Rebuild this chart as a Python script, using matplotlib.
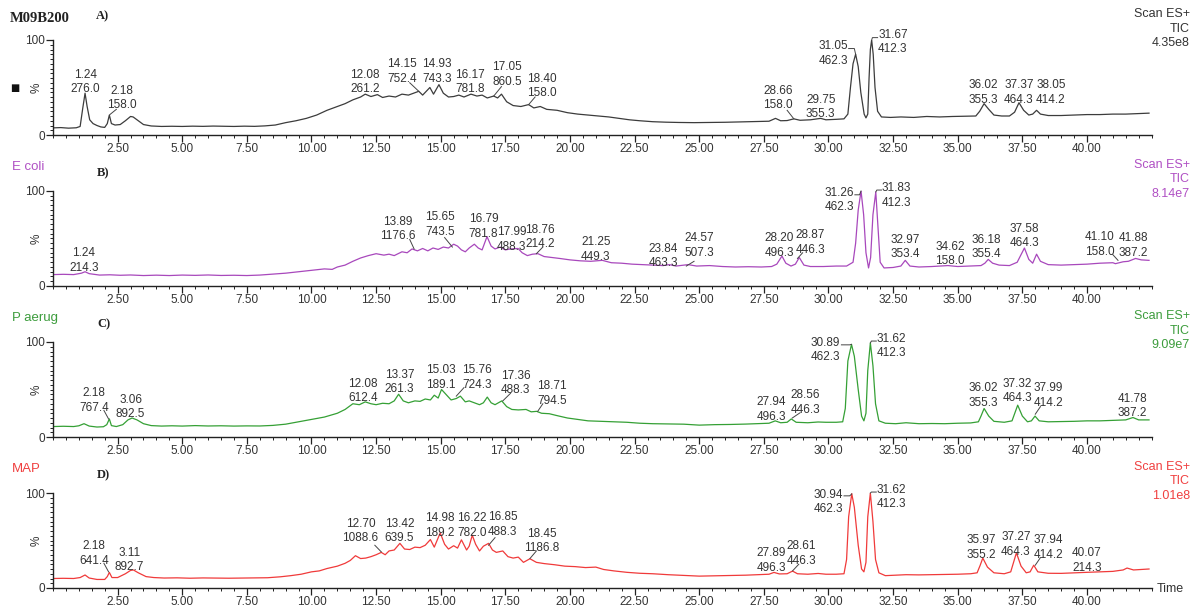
import matplotlib
matplotlib.use("Agg")
import matplotlib.pyplot as plt
from matplotlib.ticker import FixedLocator, MultipleLocator, FormatStrFormatter

W, H = 1194, 607
SANS = ["Liberation Sans", "DejaVu Sans"]
SERIF = ["Liberation Serif", "DejaVu Serif"]
plt.rcParams["font.family"] = SANS

# ---------------------------------------------------------------- TIC traces
# retention time (min) and relative intensity (%)
time_a = [0.0, 0.3, 0.6, 0.9, 1.05, 1.15, 1.24, 1.32, 1.42, 1.55, 1.7, 1.85, 2.0, 2.1, 2.18, 2.26, 2.4,
          2.6, 2.8, 3.0, 3.1, 3.3, 3.5, 3.8, 4.2, 4.6, 5.0, 5.4, 5.8, 6.2, 6.6, 7.0, 7.4, 7.8, 8.2, 8.6,
          9.0, 9.4, 9.8, 10.2, 10.6, 11.0, 11.3, 11.6, 11.9, 12.08, 12.3, 12.55, 12.75, 13.0, 13.25, 13.5,
          13.75, 13.95, 14.15, 14.3, 14.58, 14.72, 14.93, 15.1, 15.3, 15.5, 15.7, 15.9, 16.17, 16.4, 16.6,
          16.8, 17.05, 17.2, 17.35, 17.55, 17.8, 18.1, 18.4, 18.6, 18.85, 19.1, 19.5, 19.9, 20.3, 20.7,
          21.1, 21.5, 21.9, 22.3, 22.7, 23.2, 23.7, 24.2, 24.8, 25.4, 26.0, 26.6, 27.2, 27.7, 27.95, 28.15,
          28.4, 28.66, 28.9, 29.3, 29.7, 29.9, 30.3, 30.6, 30.75, 30.85, 30.95, 31.05, 31.15, 31.25, 31.38,
          31.45, 31.52, 31.57, 31.62, 31.67, 31.73, 31.8, 31.9, 32.05, 32.4, 32.8, 33.3, 33.8, 34.3, 34.8,
          35.3, 35.7, 35.85, 36.02, 36.2, 36.4, 36.7, 37.0, 37.2, 37.37, 37.55, 37.75, 37.9, 38.05, 38.2,
          38.5, 39.0, 39.5, 40.0, 40.5, 41.0, 41.5, 42.0, 42.4]
tic_a = [7.5, 7.8, 7.2, 7.6, 9, 28, 44, 30, 16, 12, 10, 8.5, 8, 12, 21, 12, 10.5,
         11, 15, 19.5, 19, 15, 11, 9.5, 9, 9.2, 9, 9.3, 9.1, 9.4, 9.2, 9.0, 9.3, 9.1, 9.6, 10.5,
         13, 15, 17.5, 21, 26, 30, 33, 37, 40, 43, 40.5, 42.5, 39.5, 41, 40, 43,
         42, 44, 46, 42, 50, 43, 53, 44, 40, 40.5, 42, 40, 43, 41, 42,
         39, 41, 39, 43, 35, 31, 30, 32, 28.5, 30, 27, 26, 23.5, 22, 21,
         20, 19, 17.5, 16, 15, 14, 13.5, 13.2, 13, 13.2, 13.4, 13.8, 14.2, 14.5, 17.5, 15,
         15.2, 17, 15.5, 16, 17.5, 16, 16.5, 17, 22, 50, 75, 85, 72, 45, 22,
         18, 22, 60, 90, 100, 85, 50, 25, 19, 18.5, 19, 18.5, 19.5, 19, 19.5,
         19.8, 20, 25, 33, 27, 21, 20, 20, 24, 34, 26, 21, 22, 26, 22,
         20.5, 20.5, 21, 21.5, 21.5, 22, 22, 22.5, 23]

time_b = [0.0, 0.4, 0.8, 1.1, 1.24, 1.4, 1.8, 2.2, 2.6, 3.0, 3.5, 4.0, 4.5, 5.0, 5.5, 6.0, 6.5, 7.0,
          7.5, 8.0, 8.5, 9.0, 9.5, 10.0, 10.5, 10.8, 11.0, 11.3, 11.6, 11.9, 12.2, 12.5, 12.8, 13.0,
          13.2, 13.5, 13.7, 13.89, 14.1, 14.3, 14.5, 14.7, 14.9, 15.1, 15.3, 15.5, 15.65, 15.8, 15.95,
          16.1, 16.3, 16.45, 16.6, 16.79, 16.95, 17.1, 17.3, 17.5, 17.7, 17.99, 18.15, 18.35, 18.55,
          18.76, 19.0, 19.3, 19.6, 20.0, 20.4, 20.8, 21.25, 21.6, 22.0, 22.4, 22.8, 23.2, 23.6, 23.84,
          24.1, 24.57, 24.9, 25.4, 25.9, 26.4, 26.9, 27.4, 27.8, 28.0, 28.2, 28.35, 28.55, 28.72, 28.87,
          29.05, 29.3, 29.8, 30.3, 30.7, 30.95, 31.05, 31.15, 31.26, 31.36, 31.45, 31.55, 31.63, 31.72,
          31.83, 31.92, 32.0, 32.15, 32.5, 32.8, 32.97, 33.15, 33.5, 34.0, 34.62, 35.0, 35.5, 35.9,
          36.05, 36.18, 36.35, 36.6, 37.0, 37.3, 37.58, 37.75, 37.9, 38.05, 38.2, 38.5, 39.0, 39.5,
          40.0, 40.5, 41.0, 41.1, 41.4, 41.6, 41.88, 42.1, 42.4]
tic_b = [12, 12.3, 12, 13.5, 15, 13, 11.5, 11.8, 11.3, 11.6, 11, 11.4, 11, 11.5, 11.2, 11.6, 11.1, 11.3,
         11, 11.5, 12.5, 13.5, 15, 16.5, 18, 17.5, 20, 22, 26, 29.5, 32, 34, 32.5, 33.5,
         32, 36, 35, 39, 37, 39.5, 37, 40, 38.5, 41, 40, 44, 42, 38, 36,
         40, 44, 40, 38, 52, 42, 39, 41, 38, 39, 39.5, 35, 32, 33.5,
         34, 31, 30, 29, 27.5, 26.5, 26, 27, 24.5, 24, 23, 22.5, 22, 21.5, 22.5,
         21, 22.5, 21, 21.5, 20.5, 20, 20.3, 20, 20.5, 23, 31.5, 24, 21, 23, 30,
         22, 20.5, 20.5, 21, 21, 25, 45, 80, 100, 75, 35, 19, 30, 75,
         99, 60, 25, 19, 19.5, 21, 27, 21, 20, 20.5, 21.5, 20.5, 21, 21.5,
         24, 28, 24, 22, 21.5, 25, 40, 28, 24, 33.5, 26, 22.5, 22, 22.5,
         23, 24, 24.5, 23.5, 25.5, 26, 29, 27.5, 27]

time_c = [0.0, 0.4, 0.8, 1.0, 1.2, 1.4, 1.7, 1.95, 2.08, 2.18, 2.26, 2.45, 2.7, 2.9, 3.06, 3.25, 3.5,
          3.8, 4.2, 4.6, 5.0, 5.5, 6.0, 6.5, 7.0, 7.5, 8.0, 8.5, 9.0, 9.5, 10.0, 10.5, 11.0, 11.3,
          11.6, 11.85, 12.08, 12.3, 12.5, 12.75, 13.0, 13.2, 13.37, 13.55, 13.75, 14.0, 14.2, 14.4,
          14.6, 14.75, 14.9, 15.03, 15.2, 15.4, 15.6, 15.76, 15.95, 16.1, 16.3, 16.5, 16.65, 16.8,
          16.95, 17.1, 17.36, 17.55, 17.75, 18.0, 18.3, 18.5, 18.71, 18.9, 19.2, 19.5, 19.9, 20.3,
          20.7, 21.2, 21.7, 22.2, 22.7, 23.2, 23.8, 24.4, 25.0, 25.6, 26.2, 26.8, 27.4, 27.7, 27.94,
          28.15, 28.4, 28.56, 28.75, 29.2, 29.6, 29.9, 30.3, 30.55, 30.65, 30.75, 30.89, 31.0, 31.15,
          31.28, 31.37, 31.45, 31.52, 31.62, 31.72, 31.82, 31.95, 32.2, 32.6, 33.0, 33.5, 34.0, 34.5,
          35.0, 35.5, 35.8, 35.9, 36.02, 36.2, 36.4, 36.8, 37.1, 37.32, 37.5, 37.7, 37.85, 37.99,
          38.15, 38.5, 39.0, 39.5, 40.0, 40.5, 41.0, 41.5, 41.78, 42.0, 42.4]
tic_c = [11, 11.3, 11, 11.8, 14, 11.5, 10.5, 10.8, 13, 19, 12, 11, 13, 18, 20, 18, 14,
         12, 11.5, 11.8, 11.5, 12, 11.6, 11.8, 11.5, 11.7, 11.6, 12.2, 13.5, 16, 18.5, 21, 25, 29,
         35, 34, 37, 35, 34, 35.5, 35, 38, 45, 38, 36, 38, 37.5, 40,
         39, 44, 41, 50, 45, 39, 40.5, 43, 37, 38, 36, 34, 36, 42,
         36, 34, 38, 32, 29, 28.5, 29, 26.5, 27, 25, 24.5, 22.5, 20, 18.5,
         17, 16.5, 16, 15.5, 14.5, 14, 13.8, 13.5, 12.5, 13, 13.2, 13.6, 14.2, 14.5, 17,
         15, 15.5, 19, 15.5, 15, 15.8, 15.5, 15.5, 16, 30, 80, 97.5, 85, 50,
         22, 17, 25, 70, 99, 75, 35, 17, 14.5, 14, 15, 14, 14.2, 14,
         14.5, 14.8, 16, 22, 30, 22, 16.5, 15.5, 17, 33.5, 22, 16, 17, 22,
         17, 16, 16.2, 16.5, 17, 17, 17.5, 18, 20.5, 18, 18]

time_d = [0.0, 0.4, 0.8, 1.05, 1.24, 1.4, 1.7, 2.0, 2.1, 2.18, 2.28, 2.5, 2.8, 3.0, 3.11, 3.3, 3.6,
          3.9, 4.3, 4.8, 5.3, 5.8, 6.3, 6.8, 7.3, 7.8, 8.3, 8.8, 9.2, 9.6, 10.0, 10.3, 10.6, 11.0,
          11.3, 11.5, 11.7, 11.9, 12.1, 12.3, 12.5, 12.7, 12.85, 13.0, 13.2, 13.42, 13.6, 13.8, 14.0,
          14.2, 14.4, 14.6, 14.75, 14.98, 15.15, 15.3, 15.5, 15.65, 15.8, 16.0, 16.1, 16.22, 16.35,
          16.5, 16.65, 16.85, 17.0, 17.15, 17.4, 17.6, 17.8, 18.0, 18.2, 18.45, 18.7, 19.0, 19.4,
          19.8, 20.2, 20.6, 21.0, 21.3, 21.7, 22.2, 22.7, 23.2, 23.8, 24.4, 25.0, 25.6, 26.2, 26.8,
          27.4, 27.7, 27.89, 28.1, 28.4, 28.61, 28.8, 29.2, 29.6, 29.9, 30.3, 30.6, 30.7, 30.78,
          30.9, 31.0, 31.15, 31.28, 31.37, 31.45, 31.52, 31.62, 31.72, 31.82, 31.95, 32.2, 32.6,
          33.0, 33.5, 34.0, 34.5, 35.0, 35.5, 35.75, 35.87, 35.97, 36.15, 36.4, 36.8, 37.05, 37.27,
          37.45, 37.65, 37.8, 37.94, 38.1, 38.5, 39.0, 39.5, 40.0, 40.5, 41.0, 41.4, 41.55, 41.8,
          42.1, 42.4]
tic_d = [10, 10.2, 10, 11, 13.7, 10.5, 9, 9, 12, 16.4, 11, 11, 15, 18.5, 19, 16, 12,
         11, 10.5, 10.7, 10.3, 10.6, 10.4, 10.3, 10.5, 10.6, 10.8, 11.8, 13, 14.5, 17, 18, 20.5, 23,
         26, 29, 34, 31, 31.5, 33, 35, 37.5, 35, 39, 40, 47, 41, 40.5, 43,
         42.5, 45, 51, 43, 58, 46, 41, 44.5, 42, 50.7, 40, 44, 55.5, 46,
         39, 44, 47, 40, 37.5, 39, 33, 31.5, 32.5, 27, 30.8, 27, 25.7, 24.5,
         23, 22.5, 21.5, 22, 19.5, 18, 16.5, 15.5, 15, 14, 13.2, 12.5, 12.8, 13, 13.5,
         14.2, 14.5, 16.4, 14.8, 15, 17.8, 15, 14.5, 15.3, 14.5, 14.5, 15, 30, 75,
         99.3, 85, 45, 20, 17, 27, 75, 100, 70, 30, 16, 13, 13.5,
         14, 13.8, 14, 14.3, 14.5, 15, 16, 24, 31.5, 22, 16, 15, 17, 37,
         23, 16, 17, 24, 17, 15.5, 15.4, 16, 16.5, 17, 17.5, 19, 21, 19,
         19.5, 20]

# ---------------------------------------------------------------- peak labels
# (retention time, base peak m/z, label x, label baseline y, alignment)
labels_a = [("1.24", "276.0", 1.24, 45, "center"), ("2.18", "158.0", 2.67, 28, "center"),
            ("12.08", "261.2", 12.07, 45, "center"), ("14.15", "752.4", 13.5, 56, "center"),
            ("14.93", "743.3", 14.86, 56, "center"), ("16.17", "781.8", 16.13, 45, "center"),
            ("17.05", "860.5", 17.56, 53, "center"), ("18.40", "158.0", 18.9, 41, "center"),
            ("28.66", "158.0", 28.05, 28, "center"), ("29.75", "355.3", 29.7, 18.5, "center"),
            ("31.05", "462.3", 30.75, 75, "right"), ("31.67", "412.3", 31.92, 87, "left"),
            ("36.02", "355.3", 36.0, 34, "center"), ("37.37", "464.3", 37.37, 34, "center"),
            ("38.05", "414.2", 38.6, 34, "center")]
labels_b = [("1.24", "214.3", 1.2, 16, "center"), ("13.89", "1176.6", 13.35, 49, "center"),
            ("15.65", "743.5", 14.98, 54, "center"), ("16.79", "781.8", 16.65, 52, "center"),
            ("17.99", "488.3", 17.75, 38, "center"), ("18.76", "214.2", 18.85, 41, "center"),
            ("21.25", "449.3", 21.0, 27.5, "center"), ("23.84", "463.3", 23.6, 21, "center"),
            ("24.57", "507.3", 25.0, 31.7, "center"), ("28.20", "496.3", 28.1, 32, "center"),
            ("28.87", "446.3", 29.3, 35, "center"), ("31.26", "462.3", 31.0, 80, "right"),
            ("31.83", "412.3", 32.05, 84.5, "left"), ("32.97", "353.4", 32.97, 30, "center"),
            ("34.62", "158.0", 34.7, 23, "center"), ("36.18", "355.4", 36.1, 30, "center"),
            ("37.58", "464.3", 37.57, 42, "center"), ("41.10", "158.0", 40.5, 33, "center"),
            ("41.88", "387.2", 41.8, 32, "center")]
labels_c = [("2.18", "767.4", 1.58, 27.6, "center"), ("3.06", "892.5", 3.0, 21, "center"),
            ("12.08", "612.4", 12.0, 37.5, "center"), ("13.37", "261.3", 13.4, 47, "center"),
            ("15.03", "189.1", 15.0, 52, "center"), ("15.76", "724.3", 16.4, 52, "center"),
            ("17.36", "488.3", 17.9, 46, "center"), ("18.71", "794.5", 19.3, 35, "center"),
            ("27.94", "496.3", 27.8, 18, "center"), ("28.56", "446.3", 29.1, 25.5, "center"),
            ("30.89", "462.3", 30.45, 81, "right"), ("31.62", "412.3", 31.85, 85, "left"),
            ("36.02", "355.3", 36.0, 32.7, "center"), ("37.32", "464.3", 37.3, 37.5, "center"),
            ("37.99", "414.2", 38.5, 32.7, "center"), ("41.78", "387.2", 41.75, 22, "center")]
labels_d = [("2.18", "641.4", 1.58, 25.5, "center"), ("3.11", "892.7", 2.95, 18.7, "center"),
            ("12.70", "1088.6", 11.9, 49, "center"), ("13.42", "639.5", 13.4, 49, "center"),
            ("14.98", "189.2", 14.95, 55, "center"), ("16.22", "782.0", 16.2, 55, "center"),
            ("16.85", "488.3", 17.4, 56, "center"), ("18.45", "1186.8", 18.9, 39, "center"),
            ("27.89", "496.3", 27.8, 18, "center"), ("28.61", "446.3", 28.95, 25.5, "center"),
            ("30.94", "462.3", 30.55, 79.6, "right"), ("31.62", "412.3", 31.85, 85, "left"),
            ("35.97", "355.2", 35.9, 32, "center"), ("37.27", "464.3", 37.25, 35, "center"),
            ("37.94", "414.2", 38.5, 32, "center"), ("40.07", "214.3", 40.0, 18, "center")]

# leader lines joining labels to their peaks (time, %)
leaders_a = [[(2.2, 21.5), (2.45, 27)], [(14.15, 46), (13.8, 55)], [(17.05, 41), (17.35, 51)],
             [(18.4, 32), (18.65, 40)], [(28.66, 17), (28.4, 26)],
             [(31.05, 85), (31.0, 91), (30.78, 91)], [(31.67, 100), (31.7, 102.5), (31.9, 102.5)]]
leaders_b = [[(13.97, 39), (13.8, 49)], [(15.45, 41), (15.15, 51)], [(18.7, 34), (18.95, 41)],
             [(24.5, 21), (24.8, 26)], [(28.8, 29), (29.0, 35)],
             [(31.26, 100), (31.2, 96), (31.02, 96)], [(31.83, 99), (31.87, 101), (32.05, 101)],
             [(41.2, 27), (41.0, 33)]]
leaders_c = [[(2.15, 19), (1.97, 28)], [(15.6, 43), (15.9, 52)], [(17.4, 38), (17.7, 46)],
             [(18.75, 27), (18.95, 35)], [(28.6, 20), (28.9, 25.5)],
             [(30.89, 97.5), (30.82, 97), (30.5, 97)], [(31.62, 99), (31.66, 101), (31.85, 101)],
             [(38.0, 24), (38.2, 32)]]
leaders_d = [[(2.15, 17), (1.97, 26)], [(12.7, 38), (12.45, 45)], [(16.85, 45), (17.1, 53)],
             [(18.45, 31), (18.7, 39)], [(28.61, 18), (28.85, 25)],
             [(30.9, 99), (30.82, 97), (30.6, 97)], [(31.62, 100), (31.66, 101), (31.85, 101)],
             [(38.0, 24), (38.2, 32)]]

samples = ["M09B200", "E coli", "P aerug", "MAP"]
panel_tags = ["A)", "B)", "C)", "D)"]
tic_max = ["4.35e8", "8.14e7", "9.09e7", "1.01e8"]
colors = ["#3c3c3c", "#a848bc", "#35a035", "#f03a3a"]
name_colors = ["#222222", "#b050c4", "#3c9c3c", "#f04040"]

# panel geometry in pixels: y of the 0 % line
y0_px = [135, 286, 437, 588]
plot_h = 95
x0_px, x_w = 53, 1098.6

fig = plt.figure(figsize=(W / 100, H / 100), dpi=100)


def fx(px):
    return px / W


def fy(py):
    return 1 - py / H


traces = [(time_a, tic_a), (time_b, tic_b), (time_c, tic_c), (time_d, tic_d)]
all_labels = [labels_a, labels_b, labels_c, labels_d]
all_leaders = [leaders_a, leaders_b, leaders_c, leaders_d]
label_color = "#333333"
LFS = 8.5

for i in range(4):
    ax = fig.add_axes([fx(x0_px), fy(y0_px[i]), x_w / W, plot_h / H])
    t, y = traces[i]
    ax.plot(t, y, color=colors[i], lw=0.9)
    ax.set_xlim(0, 42.5)
    ax.set_ylim(0, 100)
    for s in ("top", "right"):
        ax.spines[s].set_visible(False)
    for s in ("left", "bottom"):
        ax.spines[s].set_linewidth(1.0)
        ax.spines[s].set_color("#222222")
    ax.xaxis.set_major_locator(FixedLocator([2.5 * k for k in range(1, 17)]))
    ax.xaxis.set_major_formatter(FormatStrFormatter("%.2f"))
    ax.xaxis.set_minor_locator(MultipleLocator(0.5))
    ax.yaxis.set_major_locator(FixedLocator([0, 100]))
    ax.yaxis.set_minor_locator(MultipleLocator(5))
    ax.tick_params(axis="both", which="major", direction="out", length=5, width=0.9,
                   color="#222222", labelsize=8.5, pad=0.5, labelcolor="#333333")
    ax.tick_params(axis="both", which="minor", direction="out", length=2.5, width=0.7,
                   color="#222222")
    ax.text(-0.62, 50, "%", rotation=90, ha="center", va="center", fontsize=8.5,
            color="#333333", clip_on=False)

    for rt, mz, lx, ly, ha in all_labels[i]:
        ax.annotate(mz, (lx, ly), xytext=(0, 0), textcoords="offset points", ha=ha,
                    va="baseline", fontsize=LFS, color=label_color, annotation_clip=False)
        ax.annotate(rt, (lx, ly), xytext=(0, 10.4), textcoords="offset points", ha=ha,
                    va="baseline", fontsize=LFS, color=label_color, annotation_clip=False)
    for seg in all_leaders[i]:
        ax.plot([p[0] for p in seg], [p[1] for p in seg], color="#444444", lw=0.7,
                clip_on=False)

    top = y0_px[i] - plot_h
    # acquisition info at the right
    for k, txt in enumerate(["Scan ES+", "TIC", tic_max[i]]):
        fig.text(fx(1190), fy(top - 26 + 14.5 * k), txt, ha="right", va="center",
                 fontsize=9, color=name_colors[i] if i else "#333333")
    # sample name and panel tag
    if i == 0:
        fig.text(fx(10), fy(18), samples[i], ha="left", va="center", fontsize=10.5,
                 family=SERIF, weight="bold", color="#222222")
        fig.text(fx(96), fy(16), panel_tags[i], ha="left", va="center", fontsize=9,
                 family=SERIF, weight="bold", color="#222222")
        fig.text(fx(15), fy(88), "\u25a0", ha="center", va="center", fontsize=7,
                 family=["DejaVu Sans"], color="#111111")
    else:
        fig.text(fx(12), fy(top - 24), samples[i], ha="left", va="center", fontsize=9.5,
                 color=name_colors[i])
        fig.text(fx(97), fy(top - 18), panel_tags[i], ha="left", va="center", fontsize=9,
                 family=SERIF, weight="bold", color="#222222")

fig.text(fx(1157), fy(589), "Time", ha="left", va="center", fontsize=9, color="#333333")

fig.savefig("out.png", dpi=100)
